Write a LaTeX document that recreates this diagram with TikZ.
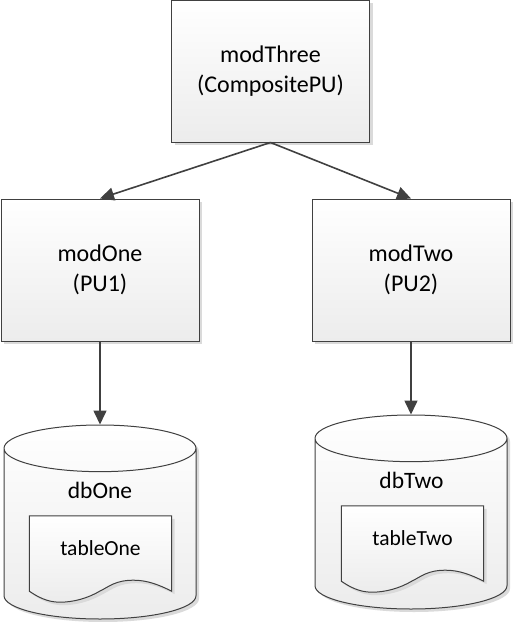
\documentclass[tikz,border=0pt]{standalone}
\usepackage{fontspec}
\setmainfont{Carlito}
\usetikzlibrary{arrows.meta,positioning,shapes.geometric,shadows,backgrounds}

\definecolor{lineGray}{HTML}{404040}
\definecolor{shadeGray}{HTML}{ECECEC}
\definecolor{shadowGray}{HTML}{DADADA}

\tikzset{
	boxShadow/.style={drop shadow={shadow xshift=3pt,shadow yshift=-3pt,fill=shadowGray,opacity=1}},
	modBox/.style={rectangle,draw=lineGray,line width=1pt,top color=white,bottom color=shadeGray,boxShadow,
		minimum width=198pt,minimum height=142pt,align=center,font=\fontsize{24}{29.5}\selectfont},
	dbCyl/.style={cylinder,shape border rotate=90,draw=lineGray,line width=1pt,top color=white,bottom color=shadeGray,boxShadow,
		aspect=7,minimum width=192pt,minimum height=194pt},
	dbText/.style={font=\fontsize{23.5}{28}\selectfont},
	tableBox/.style={minimum width=142pt,minimum height=64pt,inner sep=0pt,font=\fontsize{21.5}{26}\selectfont},
	tableDoc/.style={draw=lineGray,line width=1pt,top color=white,bottom color=shadeGray,boxShadow},
	link/.style={-{Triangle[length=14pt,width=13pt]},lineGray,line width=1.6pt}
}

\newcommand{\tableShape}[1]{
	\path[tableDoc] (#1.north west) -- (#1.north east) -- ([yshift=-11pt]#1.south east)
		.. controls ([xshift=-12pt,yshift=-5pt]#1.south east) and ([xshift=-24pt]#1.south east) .. ([xshift=-38pt]#1.south east)
		.. controls ([xshift=-56pt]#1.south east) and ([xshift=-62pt,yshift=-6pt]#1.south east) .. ([xshift=-72pt,yshift=-11pt]#1.south east)
		.. controls ([xshift=-84pt,yshift=-18pt]#1.south east) and ([xshift=-98pt,yshift=-22pt]#1.south east) .. ([xshift=-112pt,yshift=-22pt]#1.south east)
		.. controls ([xshift=-125pt,yshift=-22pt]#1.south east) and ([xshift=-135pt,yshift=-16pt]#1.south east) .. ([yshift=-11pt]#1.south west)
		-- cycle;
}

\begin{document}
\begin{tikzpicture}[x=1pt,y=1pt]
	\useasboundingbox (0,0) rectangle (515,-622);

	\node[modBox] (modThree) at (270.5,-71) {modThree\\(CompositePU)};
	\node[modBox] (modOne) at (100,-270) {modOne\\(PU1)};
	\node[modBox] (modTwo) at (411,-270) {modTwo\\(PU2)};

	\begin{scope}[on background layer]
		\node[dbCyl,below=83pt of modOne] (dbOne) {};
		\node[dbCyl,below=73pt of modTwo] (dbTwo) {};
	\end{scope}

	\node[dbText] (dbOneText) at (100,-490) {dbOne};
	\node[dbText] (dbTwoText) at (411.5,-480) {dbTwo};
	\node[tableBox] (tableOne) at (100.5,-548) {tableOne};
	\node[tableBox] (tableTwo) at (412.5,-538) {tableTwo};

	\begin{scope}[on background layer]
		\tableShape{tableOne}
		\tableShape{tableTwo}
	\end{scope}

	\draw[link] (modThree.south) -- (modOne.north);
	\draw[link] (modThree.south) -- (modTwo.north);
	\draw[link] (modOne.south) -- (dbOne.north);
	\draw[link] (modTwo.south) -- (dbTwo.north);
\end{tikzpicture}
\end{document}
